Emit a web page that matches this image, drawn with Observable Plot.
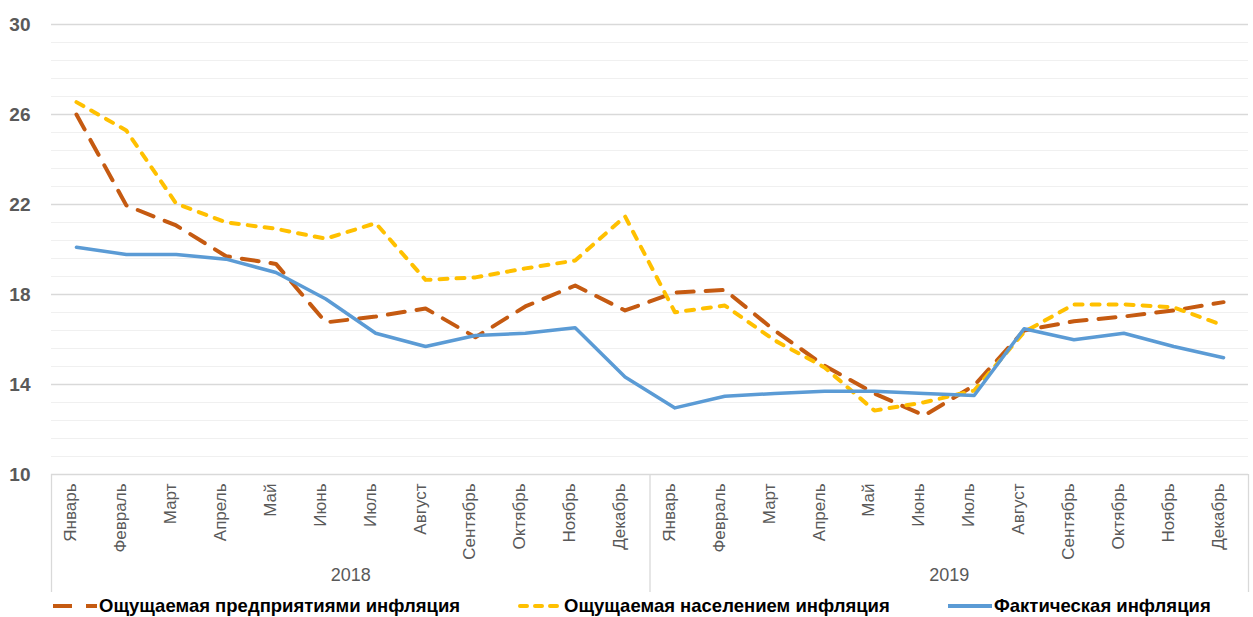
<!DOCTYPE html>
<html><head><meta charset="utf-8">
<script src="https://cdn.jsdelivr.net/npm/d3@7"></script>
<script src="https://cdn.jsdelivr.net/npm/@observablehq/plot@0.6"></script>
<style>
body{margin:0;background:#fff;}
#chart{position:relative;width:1253px;height:617px;overflow:hidden;}
#chart svg{display:block;}
.legend{position:absolute;top:595px;left:0;width:1253px;height:22px;font-family:"Liberation Sans",Arial,sans-serif;font-weight:bold;font-size:18.5px;color:#000;}
.item{position:absolute;top:0;display:flex;align-items:center;height:22px;white-space:nowrap;}
.item svg{margin-right:2px;}
</style></head><body><div id="chart"></div>
<script>
const months = ["Январь","Февраль","Март","Апрель","Май","Июнь","Июль","Август","Сентябрь","Октябрь","Ноябрь","Декабрь"];
const years = ["2018","2019"];
const yTicks = [10,14,18,22,26,30];
const minorStep = 0.8;
const seriesNames = ["Ощущаемая предприятиями инфляция","Ощущаемая населением инфляция","Фактическая инфляция"];
// values, Jan 2018 .. Dec 2019
const enterprises = [26.0,21.96,21.07,19.7,19.36,16.76,17.02,17.38,16.1,17.47,18.4,17.29,
                     18.09,18.2,16.4,14.84,13.6,12.62,13.96,16.4,16.81,17.02,17.29,17.66];
const population  = [26.55,25.29,22.04,21.21,20.92,20.48,21.17,18.65,18.76,19.16,19.51,21.47,
                     17.21,17.51,15.96,14.76,12.84,13.21,13.73,16.33,17.56,17.56,17.43,16.62];
const actual      = [20.1,19.78,19.78,19.57,18.98,17.8,16.28,15.69,16.18,16.28,16.52,14.33,
                     12.96,13.48,13.6,13.7,13.7,13.6,13.51,16.48,15.99,16.28,15.69,15.19];
const colors = ["#C55A11","#FFC000","#5B9BD5"];

const rows = years.flatMap((yr, yi) => months.map((m, mi) => {
  const i = yi * months.length + mi;
  return {i, year: yr, month: m, enterprises: enterprises[i], population: population[i], actual: actual[i]};
}));
const yearGroups = years.map((yr, yi) => ({year: yr, center: yi * months.length + (months.length - 1) / 2}));
const boundaries = d3.range(years.length + 1).map(k => k * months.length - 0.5);
const minorTicks = d3.range(yTicks[0], yTicks[yTicks.length - 1] + 1e-9, minorStep).filter(v => !yTicks.some(t => Math.abs(t - v) < 1e-6));

const narrow = '"Liberation Sans Narrow","Arial Narrow","Liberation Sans",Arial,sans-serif';
const W = 1253, H = 595;
const chart = Plot.plot({
  width: W, height: H,
  marginLeft: 51, marginRight: 5, marginTop: 24, marginBottom: 121,
  x: {type: "linear", domain: [-0.5, rows.length - 0.5], axis: null},
  y: {domain: [yTicks[0], yTicks[yTicks.length - 1]], axis: null},
  style: {background: "#fff", fontFamily: narrow},
  marks: [
    Plot.ruleY(minorTicks, {y: d => d, stroke: "#f0f0f0", strokeWidth: 1.2}),
    Plot.ruleY(yTicks, {y: d => d, stroke: "#d9d9d9", strokeWidth: 1.3}),
    Plot.ruleX(boundaries, {x: d => d, stroke: "#d9d9d9", strokeWidth: 1.3, insetTop: 450, insetBottom: -118}),
    Plot.text(yTicks, {y: d => d, frameAnchor: "left", textAnchor: "end", dx: -21, text: d => String(d),
      fontSize: 19, fontWeight: "bold", fill: "#595959", fontFamily: narrow}),
    Plot.text(rows, {x: "i", frameAnchor: "bottom", rotate: -90, textAnchor: "end", dy: 9, text: "month",
      fontSize: 17, fill: "#595959", fontFamily: narrow}),
    Plot.text(yearGroups, {x: "center", frameAnchor: "bottom", dy: 106, text: "year",
      fontSize: 18, fill: "#595959", fontFamily: narrow}),
    Plot.line(rows, {x: "i", y: "enterprises", stroke: colors[0], strokeWidth: 4, strokeDasharray: "17,12"}),
    Plot.line(rows, {x: "i", y: "population", stroke: colors[1], strokeWidth: 4, strokeDasharray: "8,9", strokeLinecap: "round"}),
    Plot.line(rows, {x: "i", y: "actual", stroke: colors[2], strokeWidth: 3.5})
  ]
});
const host = document.getElementById("chart");
host.appendChild(chart);

const legend = document.createElement("div");
legend.className = "legend";
const lefts = [53, 518, 948];
const dashes = [{d: "19,14", cap: "butt"}, {d: "7,8", cap: "round"}, {d: null, cap: "butt"}];
seriesNames.forEach((name, k) => {
  const item = document.createElement("div");
  item.className = "item";
  item.style.left = lefts[k] + "px";
  const ns = "http://www.w3.org/2000/svg";
  const s = document.createElementNS(ns, "svg");
  s.setAttribute("width", 44); s.setAttribute("height", 22);
  const ln = document.createElementNS(ns, "line");
  ln.setAttribute("x1", k === 1 ? 2 : 0); ln.setAttribute("x2", 44);
  ln.setAttribute("y1", 11); ln.setAttribute("y2", 11);
  ln.setAttribute("stroke", colors[k]); ln.setAttribute("stroke-width", 4);
  ln.setAttribute("stroke-linecap", dashes[k].cap);
  if (dashes[k].d) ln.setAttribute("stroke-dasharray", dashes[k].d);
  s.appendChild(ln);
  item.appendChild(s);
  const t = document.createElement("span");
  t.textContent = name;
  item.appendChild(t);
  legend.appendChild(item);
});
host.appendChild(legend);
</script>
</body></html>
